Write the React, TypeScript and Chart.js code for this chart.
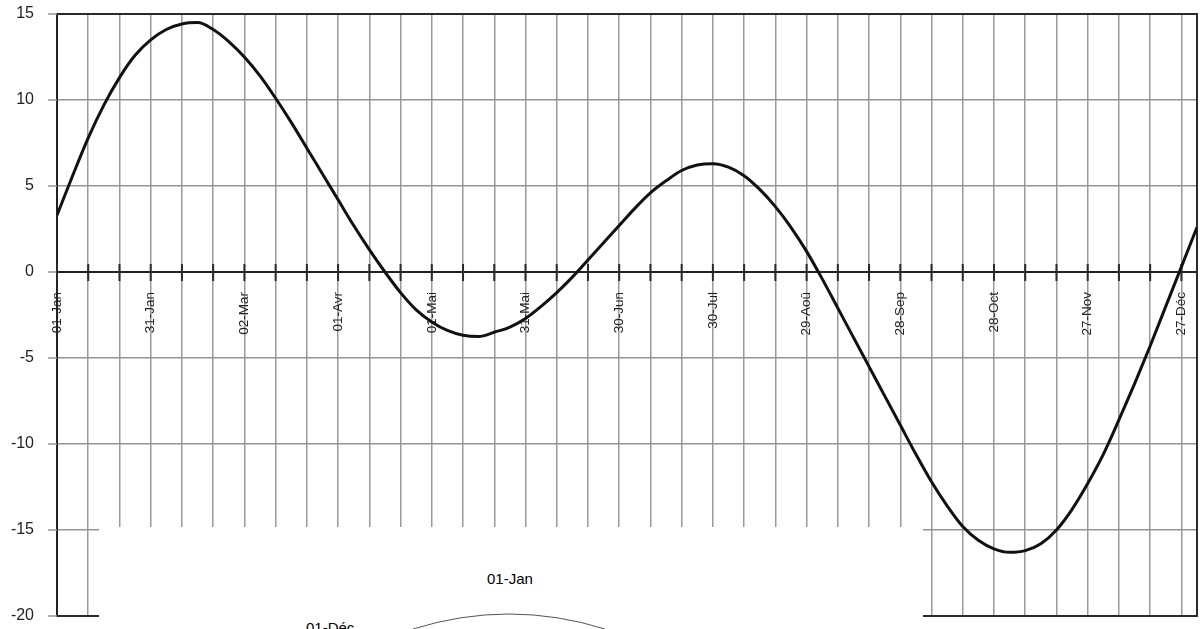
import React, { useEffect, useRef } from "react";
import { Chart, registerables } from "chart.js";

Chart.register(...registerables);

// Day of year (0 = 01-Jan) and equation-of-time values (minutes)
const days = [
  0, 5, 10, 15, 20, 25, 30, 35, 40, 45, 50, 55, 60, 65, 70, 75, 80, 85, 90, 95,
  100, 105, 110, 115, 120, 125, 130, 135, 140, 145, 150, 155, 160, 165, 170, 175,
  180, 185, 190, 195, 200, 205, 210, 215, 220, 225, 230, 235, 240, 245, 250, 255,
  260, 265, 270, 275, 280, 285, 290, 295, 300, 305, 310, 315, 320, 325, 330, 335,
  340, 345, 350, 355, 360, 365,
];
const values = [
  3.3, 5.6, 7.8, 9.7, 11.3, 12.6, 13.5, 14.1, 14.42, 14.5, 14.1, 13.4, 12.5, 11.4,
  10.1, 8.7, 7.2, 5.7, 4.2, 2.7, 1.3, 0.0, -1.2, -2.2, -2.9, -3.4, -3.68, -3.75,
  -3.5, -3.2, -2.7, -2.0, -1.2, -0.3, 0.7, 1.7, 2.7, 3.7, 4.6, 5.3, 5.9, 6.22,
  6.3, 6.1, 5.6, 4.8, 3.8, 2.6, 1.2, -0.4, -2.1, -3.8, -5.5, -7.2, -8.9, -10.6,
  -12.2, -13.6, -14.8, -15.6, -16.1, -16.3, -16.2, -15.8, -15.0, -13.8, -12.3,
  -10.6, -8.6, -6.5, -4.3, -2.0, 0.3, 2.6,
];

// Grid every 10 days, labels every 30 days
const gridDays = [
  0, 10, 20, 30, 40, 50, 60, 70, 80, 90, 100, 110, 120, 130, 140, 150, 160, 170,
  180, 190, 200, 210, 220, 230, 240, 250, 260, 270, 280, 290, 300, 310, 320, 330,
  340, 350, 360,
];
const labelDays = [0, 30, 60, 90, 120, 150, 180, 210, 240, 270, 300, 330, 360];
const labelTexts = [
  "01-Jan", "31-Jan", "02-Mar", "01-Avr", "01-Mai", "31-Mai", "30-Jun",
  "30-Jul", "29-Aoû", "28-Sep", "28-Oct", "27-Nov", "27-Déc",
];
const yTicks = [-20, -15, -10, -5, 0, 5, 10, 15];

const FONT = "'Liberation Sans', Arial, Helvetica, sans-serif";

const framePlugin = {
  id: "frameAndTicks",
  beforeDatasetsDraw(chart: any) {
    const { ctx, chartArea, scales } = chart;
    const { left, right, top, bottom } = chartArea;
    ctx.save();
    // y tick marks outside the left axis
    ctx.strokeStyle = "#959595";
    ctx.lineWidth = 1.5;
    ctx.beginPath();
    yTicks.forEach((v) => {
      const y = scales.y.getPixelForValue(v);
      ctx.moveTo(left - 9, y);
      ctx.lineTo(left, y);
    });
    ctx.stroke();
    // frame
    ctx.strokeStyle = "#2a2a2a";
    ctx.lineWidth = 2;
    ctx.beginPath();
    ctx.moveTo(left, top);
    ctx.lineTo(right, top);
    ctx.lineTo(right, bottom);
    ctx.lineTo(left, bottom);
    ctx.stroke();
    // tick marks across the zero axis
    const y0 = scales.y.getPixelForValue(0);
    ctx.beginPath();
    gridDays.forEach((d) => {
      const x = scales.x.getPixelForValue(d);
      ctx.moveTo(x, y0 - 8);
      ctx.lineTo(x, y0 + 9);
    });
    ctx.stroke();
    ctx.restore();
  },
};

export default function App() {
  const ref = useRef<HTMLCanvasElement>(null);
  useEffect(() => {
    if (!ref.current) return;
    const chart = new Chart(ref.current, {
      type: "line",
      data: {
        datasets: [
          {
            data: days.map((d, i) => ({ x: d, y: values[i] })),
            borderColor: "#111",
            borderWidth: 3,
            pointRadius: 0,
            cubicInterpolationMode: "monotone",
            fill: false,
          },
        ],
      },
      options: {
        animation: false,
        responsive: false,
        events: [],
        layout: { padding: { top: 14, right: 5, bottom: 13, left: 0 } },
        plugins: { legend: { display: false }, tooltip: { enabled: false } },
        scales: {
          x: {
            type: "linear",
            min: 0,
            max: 365,
            position: { y: 0 } as any,
            afterBuildTicks: (s: any) => {
              s.ticks = gridDays.map((v) => ({ value: v }));
            },
            ticks: {
              autoSkip: false,
              minRotation: 90,
              maxRotation: 90,
              padding: 0,
              color: "#222",
              font: { family: FONT, size: 13.5 },
              callback: (v: any) => {
                const i = labelDays.indexOf(Number(v));
                return i >= 0 ? labelTexts[i] : "";
              },
            },
            grid: {
              color: "#9a9a9a",
              lineWidth: 1.5,
              drawTicks: true,
              tickLength: 20,
              tickColor: "rgba(0,0,0,0)",
            },
            border: { color: "#222", width: 2 },
          },
          y: {
            min: -20,
            max: 15,
            afterFit: (s: any) => {
              s.width = 57;
            },
            afterBuildTicks: (s: any) => {
              s.ticks = yTicks.map((v) => ({ value: v }));
            },
            ticks: {
              padding: 0,
              color: "#222",
              font: { family: FONT, size: 16 },
            },
            grid: {
              color: "#959595",
              lineWidth: 1.5,
              drawTicks: true,
              tickLength: 23,
              tickColor: "rgba(0,0,0,0)",
            },
            border: { color: "#222", width: 2 },
          },
        },
      },
      plugins: [framePlugin],
    });
    return () => chart.destroy();
  }, []);

  return (
    <div
      style={{
        position: "fixed",
        left: 0,
        top: 0,
        width: 1202,
        height: 629,
        background: "#fff",
        overflow: "hidden",
      }}
    >
      <canvas ref={ref} width={1202} height={629} style={{ display: "block" }} />
      <div
        style={{
          position: "absolute",
          left: 99,
          top: 527,
          width: 824,
          height: 102,
          background: "#fff",
          fontFamily: FONT,
          fontSize: 15,
          color: "#000",
        }}
      >
        <div style={{ position: "absolute", left: 388, top: 43, lineHeight: "17px" }}>01-Jan</div>
        <div style={{ position: "absolute", left: 207, top: 92, lineHeight: "17px" }}>01-Déc</div>
        <svg
          width={824}
          height={102}
          style={{ position: "absolute", left: 0, top: 0 }}
        >
          <path d="M 314 102 Q 410 72 506 102" fill="none" stroke="#555" strokeWidth={1} />
        </svg>
      </div>
    </div>
  );
}
